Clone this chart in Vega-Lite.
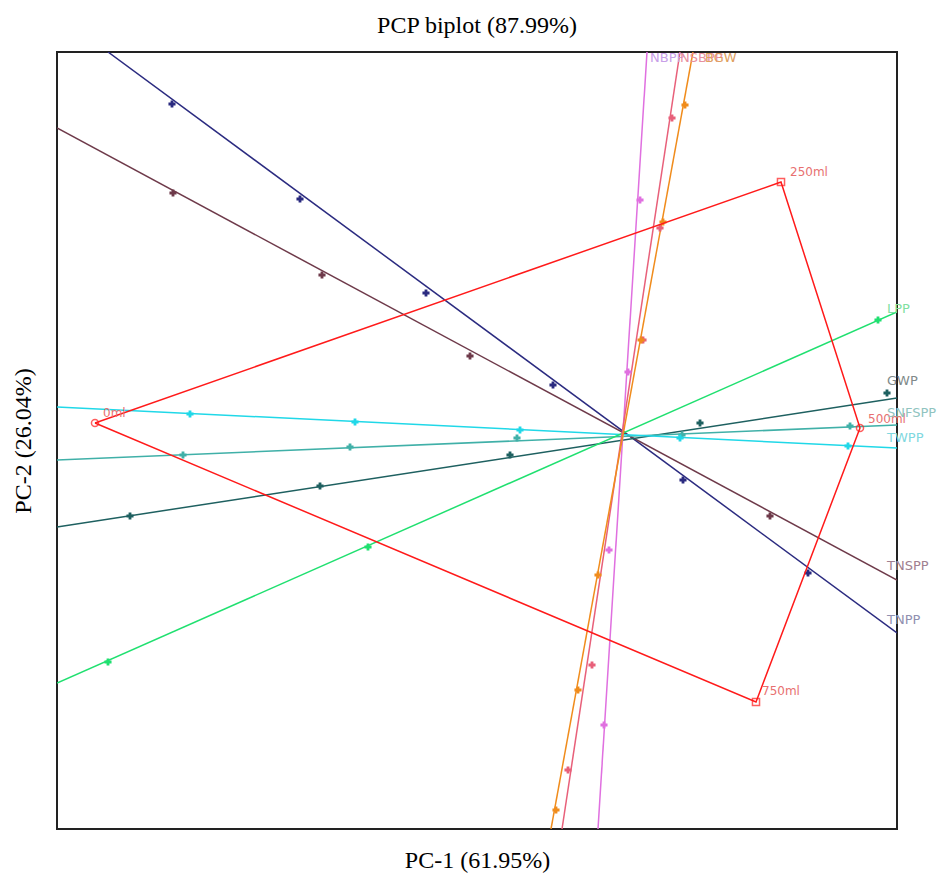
{
  "$schema": "https://vega.github.io/schema/vega-lite/v6.json",
  "autosize": "none",
  "width": 840,
  "height": 777,
  "padding": {"left": 57, "top": 52, "right": 53, "bottom": 44},
  "title": {"text": "PCP biplot (87.99%)", "font": "Liberation Serif", "fontSize": 24, "fontWeight": "normal", "color": "black", "offset": 14},
  "config": {
    "view": {"stroke": "#222", "strokeWidth": 2},
    "axis": {"grid": false, "domain": false, "ticks": false, "labels": false, "titleFont": "Liberation Serif", "titleFontSize": 24, "titleFontWeight": "normal", "titleColor": "black"}
  },
  "datasets": {
    "axes": [
      {"var": "TNPP", "x": -5.14, "y": 3.84, "o": 1}, {"var": "TNPP", "x": 2.75, "y": -1.97, "o": 2},
      {"var": "TNSPP", "x": -5.65, "y": 3.08, "o": 1}, {"var": "TNSPP", "x": 2.75, "y": -1.44, "o": 2},
      {"var": "GWP", "x": -5.65, "y": -0.91, "o": 1}, {"var": "GWP", "x": 2.75, "y": 0.38, "o": 2},
      {"var": "SNFSPP", "x": -5.65, "y": -0.24, "o": 1}, {"var": "SNFSPP", "x": 2.75, "y": 0.11, "o": 2},
      {"var": "TWPP", "x": -5.65, "y": 0.29, "o": 1}, {"var": "TWPP", "x": 2.75, "y": -0.12, "o": 2},
      {"var": "LPP", "x": -5.65, "y": -2.47, "o": 1}, {"var": "LPP", "x": 2.75, "y": 1.24, "o": 2},
      {"var": "NBPP", "x": -0.24, "y": -3.93, "o": 1}, {"var": "NBPP", "x": 0.25, "y": 3.84, "o": 2},
      {"var": "NSBPP", "x": -0.60, "y": -3.93, "o": 1}, {"var": "NSBPP", "x": 0.58, "y": 3.84, "o": 2},
      {"var": "BGW", "x": -0.71, "y": -3.93, "o": 1}, {"var": "BGW", "x": 0.71, "y": 3.84, "o": 2}
    ],
    "ticks": [
      {"var": "TNPP", "x": -4.50, "y": 3.32}, {"var": "TNPP", "x": -3.22, "y": 2.37}, {"var": "TNPP", "x": -1.96, "y": 1.43}, {"var": "TNPP", "x": -0.69, "y": 0.51}, {"var": "TNPP", "x": 0.61, "y": -0.44}, {"var": "TNPP", "x": 1.86, "y": -1.37},
      {"var": "TNSPP", "x": -4.49, "y": 2.43}, {"var": "TNSPP", "x": -3.00, "y": 1.61}, {"var": "TNSPP", "x": -1.52, "y": 0.80}, {"var": "TNSPP", "x": 1.48, "y": -0.80},
      {"var": "GWP", "x": -4.92, "y": -0.80}, {"var": "GWP", "x": -3.02, "y": -0.50}, {"var": "GWP", "x": -1.12, "y": -0.19}, {"var": "GWP", "x": 0.78, "y": 0.13}, {"var": "GWP", "x": 2.65, "y": 0.43},
      {"var": "SNFSPP", "x": -4.39, "y": -0.19}, {"var": "SNFSPP", "x": -2.72, "y": -0.11}, {"var": "SNFSPP", "x": -1.05, "y": -0.02}, {"var": "SNFSPP", "x": 0.60, "y": 0.01}, {"var": "SNFSPP", "x": 2.28, "y": 0.10},
      {"var": "TWPP", "x": -4.32, "y": 0.22}, {"var": "TWPP", "x": -2.67, "y": 0.14}, {"var": "TWPP", "x": -1.02, "y": 0.06}, {"var": "TWPP", "x": 0.58, "y": -0.02}, {"var": "TWPP", "x": 2.26, "y": -0.10},
      {"var": "LPP", "x": -5.14, "y": -2.26}, {"var": "LPP", "x": -2.54, "y": -1.11}, {"var": "LPP", "x": 2.56, "y": 1.16},
      {"var": "NBPP", "x": 0.18, "y": 2.36}, {"var": "NBPP", "x": 0.06, "y": 0.64}, {"var": "NBPP", "x": -0.13, "y": -1.14}, {"var": "NBPP", "x": -0.18, "y": -2.89},
      {"var": "NSBPP", "x": 0.50, "y": 3.18}, {"var": "NSBPP", "x": 0.38, "y": 2.08}, {"var": "NSBPP", "x": 0.21, "y": 0.96}, {"var": "NSBPP", "x": -0.30, "y": -2.29}, {"var": "NSBPP", "x": -0.54, "y": -3.34},
      {"var": "BGW", "x": 0.63, "y": 3.31}, {"var": "BGW", "x": 0.41, "y": 2.14}, {"var": "BGW", "x": 0.19, "y": 0.96}, {"var": "BGW", "x": -0.24, "y": -1.39}, {"var": "BGW", "x": -0.44, "y": -2.54}, {"var": "BGW", "x": -0.66, "y": -3.74}
    ],
    "varlabels": [
      {"var": "LPP", "x": 2.65, "y": 1.27},
      {"var": "GWP", "x": 2.65, "y": 0.55},
      {"var": "SNFSPP", "x": 2.65, "y": 0.23},
      {"var": "TWPP", "x": 2.65, "y": -0.02},
      {"var": "TNSPP", "x": 2.65, "y": -1.30},
      {"var": "TNPP", "x": 2.65, "y": -1.84},
      {"var": "NBPP", "x": 0.28, "y": 3.78},
      {"var": "NSBPP", "x": 0.58, "y": 3.78},
      {"var": "BGW", "x": 0.83, "y": 3.78}
    ],
    "hull": [
      {"sample": "0ml", "x": -5.27, "y": 0.13, "o": 1},
      {"sample": "250ml", "x": 1.59, "y": 2.54, "o": 2},
      {"sample": "500ml", "x": 2.38, "y": 0.08, "o": 3},
      {"sample": "750ml", "x": 1.34, "y": -2.66, "o": 4},
      {"sample": "0ml", "x": -5.27, "y": 0.13, "o": 5}
    ],
    "samples": [
      {"sample": "0ml", "x": -5.27, "y": 0.13, "lx": -5.19, "ly": 0.23},
      {"sample": "250ml", "x": 1.59, "y": 2.54, "lx": 1.68, "ly": 2.64},
      {"sample": "500ml", "x": 2.38, "y": 0.08, "lx": 2.46, "ly": 0.17},
      {"sample": "750ml", "x": 1.34, "y": -2.66, "lx": 1.40, "ly": -2.55}
    ]
  },
  "resolve": {"scale": {"color": "independent", "shape": "independent"}},
  "layer": [
    {
      "data": {"name": "axes"},
      "mark": {"type": "line", "clip": true, "strokeWidth": 1.5},
      "encoding": {
        "x": {"field": "x", "type": "quantitative", "scale": {"domain": [-5.65, 2.75], "nice": false, "zero": false}, "title": "PC-1 (61.95%)", "axis": {"titlePadding": 19}},
        "y": {"field": "y", "type": "quantitative", "scale": {"domain": [-3.93, 3.84], "nice": false, "zero": false}, "title": "PC-2 (26.04%)", "axis": {"titlePadding": 22}},
        "order": {"field": "o"},
        "detail": {"field": "var"},
        "color": {"field": "var", "type": "nominal", "legend": null,
          "scale": {"domain": ["TNPP", "TNSPP", "GWP", "SNFSPP", "TWPP", "LPP", "NBPP", "NSBPP", "BGW"],
                    "range": ["#2b2b80", "#6e3a4a", "#1e6060", "#40b0a8", "#20d8e8", "#20e070", "#e070e0", "#e8607a", "#f08c1c"]}}
      }
    },
    {
      "data": {"name": "ticks"},
      "mark": {"type": "point", "shape": "cross", "filled": true, "size": 50, "opacity": 1},
      "encoding": {
        "x": {"field": "x", "type": "quantitative"},
        "y": {"field": "y", "type": "quantitative"},
        "color": {"field": "var", "type": "nominal", "legend": null,
          "scale": {"domain": ["TNPP", "TNSPP", "GWP", "SNFSPP", "TWPP", "LPP", "NBPP", "NSBPP", "BGW"],
                    "range": ["#2b2b80", "#6e3a4a", "#1e6060", "#40b0a8", "#20d8e8", "#20e070", "#e070e0", "#e8607a", "#f08c1c"]}}
      }
    },
    {
      "data": {"name": "hull"},
      "mark": {"type": "line", "color": "#ff1a1a", "strokeWidth": 1.5},
      "encoding": {
        "x": {"field": "x", "type": "quantitative"},
        "y": {"field": "y", "type": "quantitative"},
        "order": {"field": "o"}
      }
    },
    {
      "data": {"name": "samples"},
      "mark": {"type": "point", "color": "#ff1a1a", "filled": false, "size": 50, "strokeWidth": 1.5},
      "encoding": {
        "x": {"field": "x", "type": "quantitative"},
        "y": {"field": "y", "type": "quantitative"},
        "shape": {"field": "sample", "type": "nominal", "legend": null,
          "scale": {"domain": ["0ml", "250ml", "500ml", "750ml"], "range": ["circle", "square", "circle", "square"]}}
      }
    },
    {
      "data": {"name": "samples"},
      "mark": {"type": "text", "align": "left", "baseline": "middle", "font": "DejaVu Sans", "fontSize": 12, "color": "#e87070"},
      "encoding": {
        "x": {"field": "lx", "type": "quantitative"},
        "y": {"field": "ly", "type": "quantitative"},
        "text": {"field": "sample"}
      }
    },
    {
      "data": {"name": "varlabels"},
      "mark": {"type": "text", "align": "left", "baseline": "middle", "font": "DejaVu Sans", "fontSize": 13},
      "encoding": {
        "x": {"field": "x", "type": "quantitative"},
        "y": {"field": "y", "type": "quantitative"},
        "text": {"field": "var"},
        "color": {"field": "var", "type": "nominal", "legend": null,
          "scale": {"domain": ["TNPP", "TNSPP", "GWP", "SNFSPP", "TWPP", "LPP", "NBPP", "NSBPP", "BGW"],
                    "range": ["#9090b0", "#a08090", "#808a8a", "#90c4c0", "#80d8e0", "#80e0a0", "#c8a0e8", "#e890a0", "#e0a060"]}}
      }
    }
  ]
}
